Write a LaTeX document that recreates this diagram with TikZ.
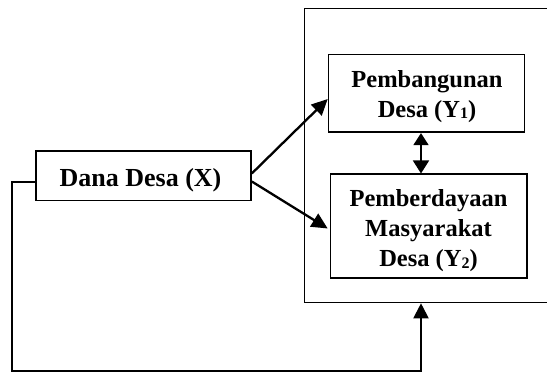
\documentclass[tikz,border=0pt]{standalone}
\usepackage{fontspec}
\setmainfont{Liberation Serif}
\usetikzlibrary{arrows.meta}
\newcommand\subsc[1]{\raisebox{-1.5pt}{\fontsize{16}{16}\selectfont #1}}
\begin{document}
\begin{tikzpicture}[x=1pt,y=-1pt,
  box/.style={draw, line width=1.6pt, rectangle, inner sep=0pt},
  lbl/.style={inner sep=0pt, anchor=base, font=\fontsize{24.5}{30}\selectfont\bfseries},
  xlbl/.style={inner sep=0pt, anchor=base, font=\fontsize{26}{30}\selectfont\bfseries},
  arr/.style={line width=2.3pt, -{Triangle[length=16pt,width=15pt]}},
  fb/.style={line width=2pt, -{Triangle[length=15pt,width=15pt]}},
  dbl/.style={line width=1.6pt, {Triangle[length=12pt,width=15pt]}-{Triangle[length=13pt,width=16pt]}}]
\useasboundingbox (0,0) rectangle (547,374);
\clip (0,0) rectangle (547,374);
% outer box (right side beyond the picture)
\node[box, minimum width=275pt, minimum height=294pt] (outer) at (442,155.5) {};
% boxes
\node[box, minimum width=215pt, minimum height=49.3pt] (x) at (143.5,175.7) {};
\node[box, minimum width=195.8pt, minimum height=77.8pt] (y1) at (426.4,93.4) {};
\node[box, minimum width=196.2pt, minimum height=104pt] (y2) at (428.6,226.3) {};
% labels
\node[xlbl] (tx) at (140.5,186.7) {Dana Desa (X)};
\node[lbl] (t1a) at (427,87.3) {Pembangunan};
\node[lbl] (t1b) at (427,117.3) {Desa (Y\subsc{1})};
\node[lbl] (t2a) at (428.5,206.5) {Pemberdayaan};
\node[lbl] (t2b) at (428.5,236.5) {Masyarakat};
\node[lbl] (t2c) at (428.5,266.8) {Desa (Y\subsc{2})};
% coordinates
\coordinate (fbl) at (11.5,371);
\coordinate (fbr) at (421,371);
% connectors
\draw[arr] ([yshift=2.2pt]x.east) -- ([yshift=-5.6pt]y1.west);
\draw[arr] ([yshift=-5.8pt]x.east) -- ([xshift=-2pt,yshift=-2.2pt]y2.west);
\draw[dbl] (y1.south -| fbr) -- (y2.north -| fbr);
\draw[fb] ([yshift=-6.6pt]x.west) -| (fbl) -- (fbr) -- (fbr |- outer.south);
\end{tikzpicture}
\end{document}
